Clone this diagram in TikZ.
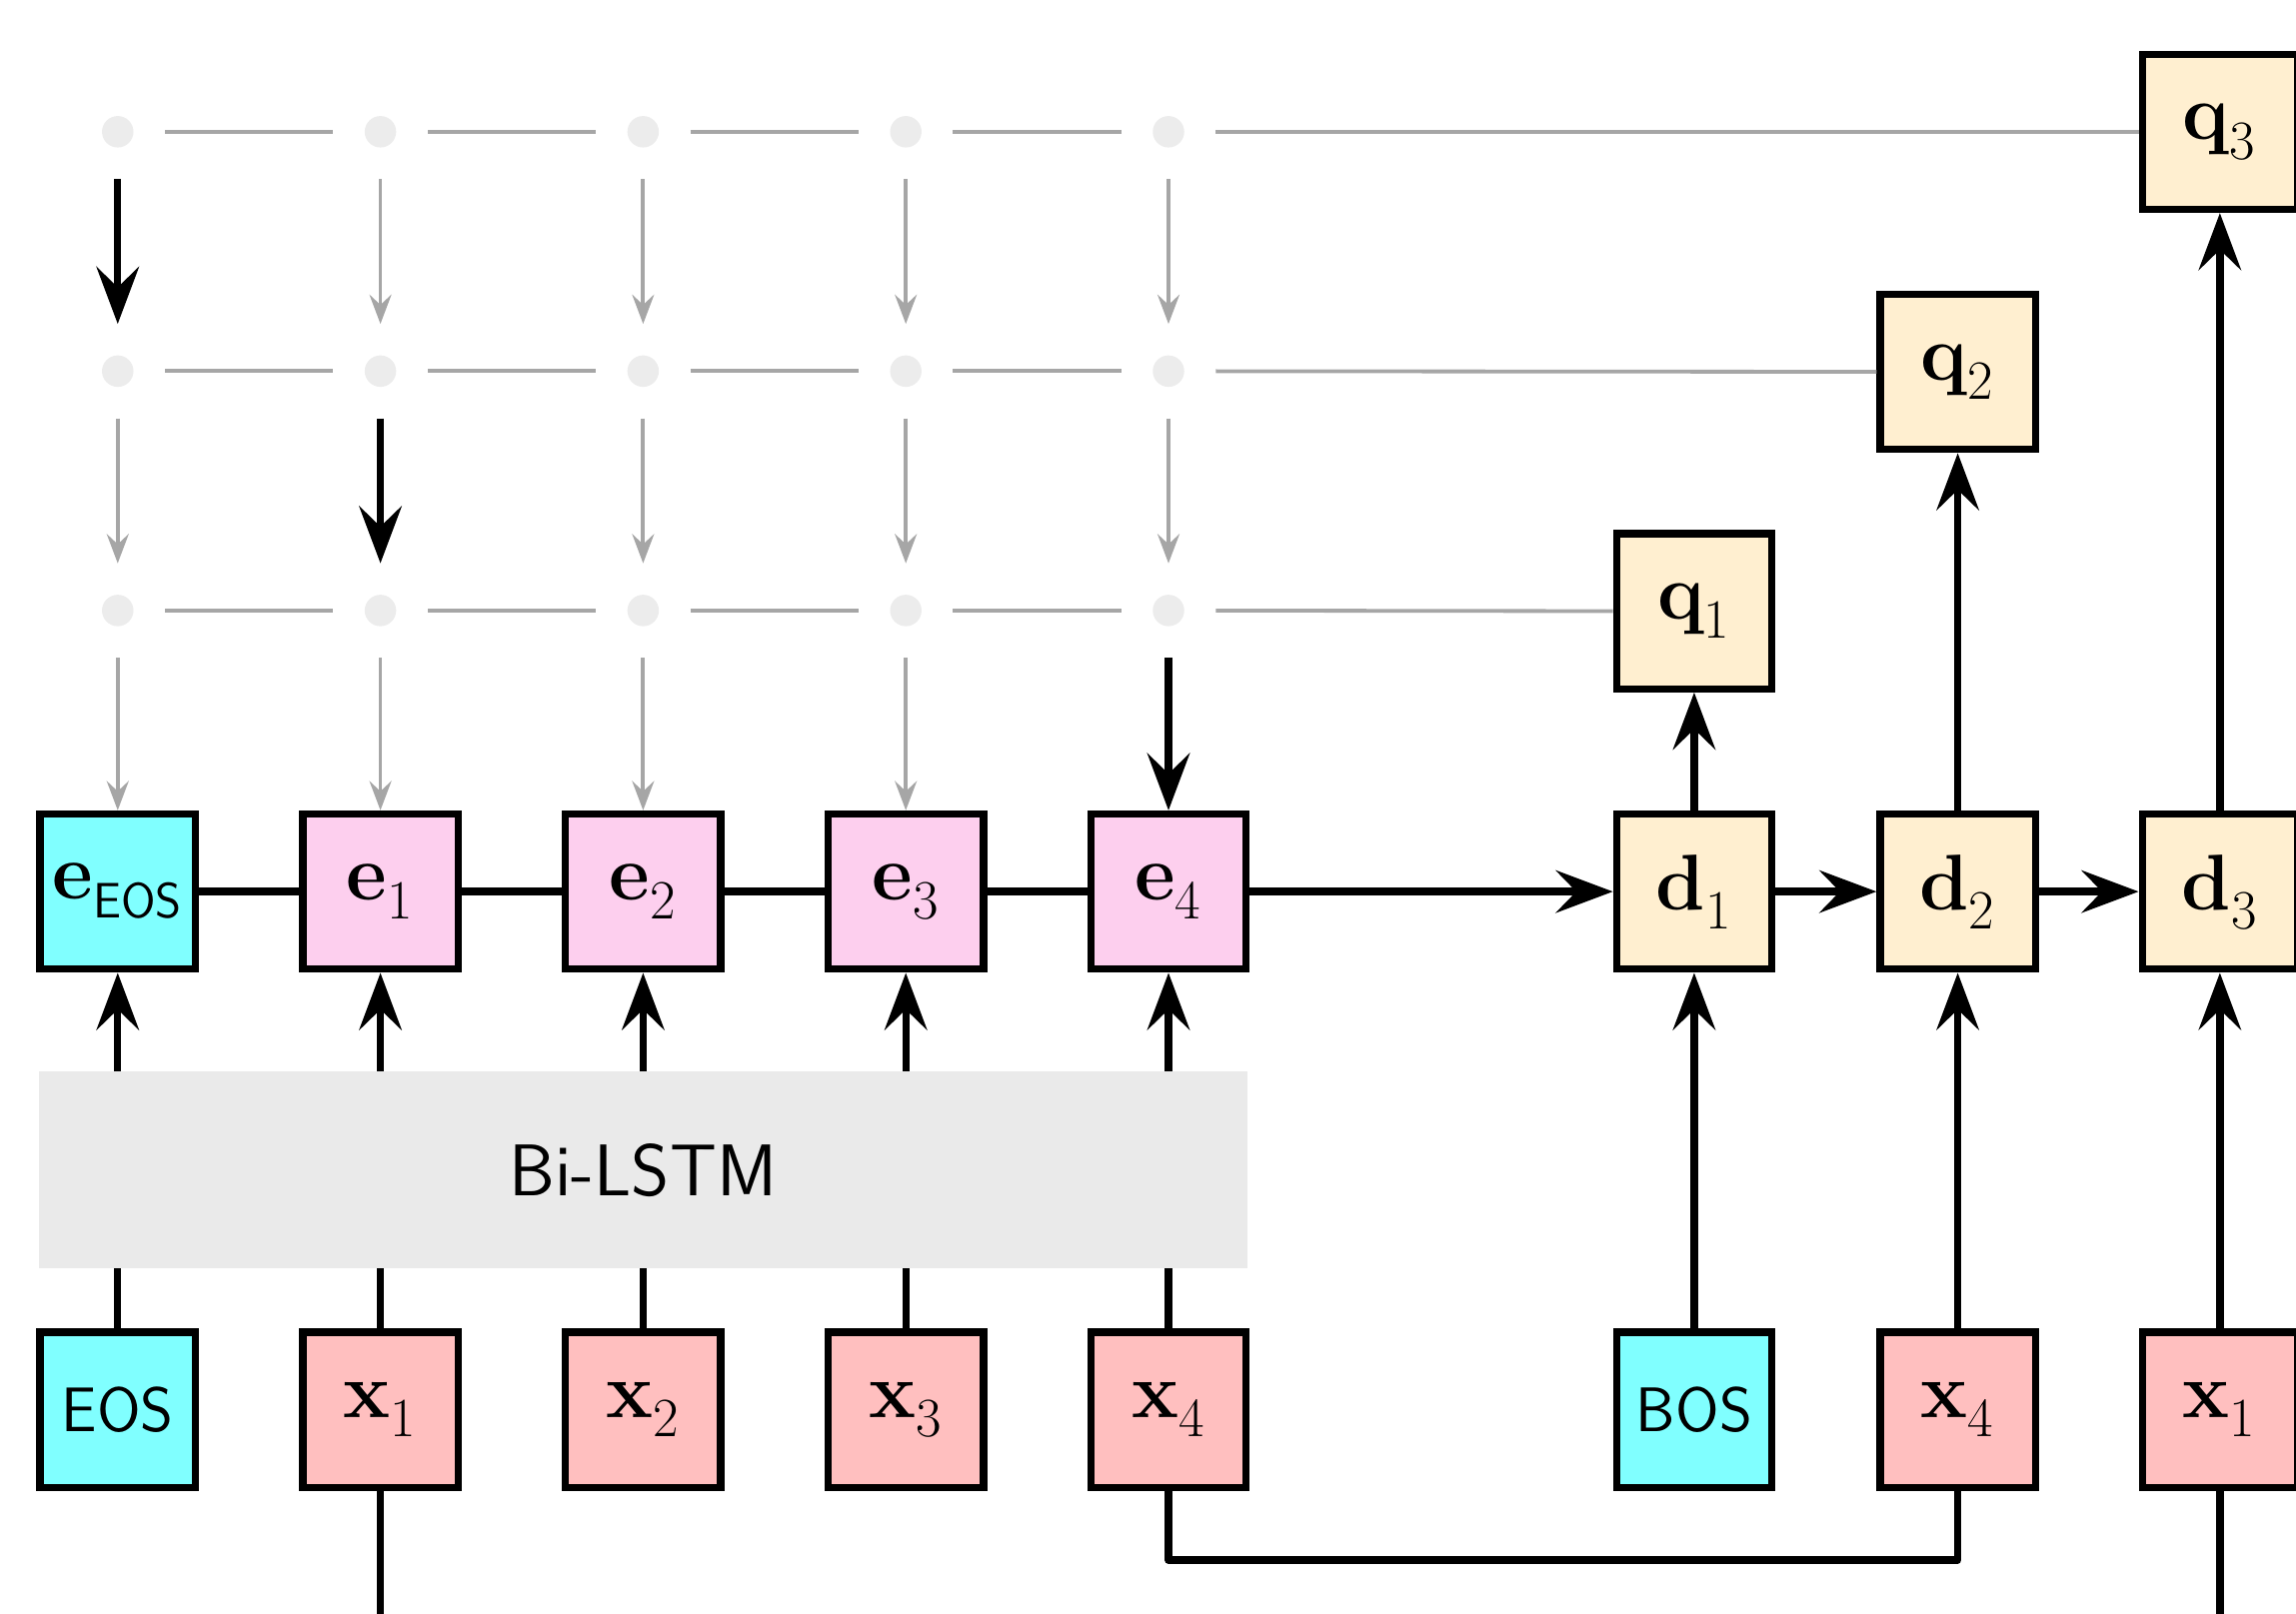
\documentclass[tikz,border=0pt]{standalone}
\usepackage{fix-cm}
\usetikzlibrary{arrows.meta}
\definecolor{cyanc}{HTML}{80FFFF}
\definecolor{epink}{HTML}{FDCFEE}
\definecolor{xpink}{HTML}{FFBFBF}
\definecolor{beige}{HTML}{FFEFD0}
\definecolor{lstmc}{HTML}{EAEAEA}
\definecolor{dotc}{HTML}{ECECEC}
\definecolor{glc}{HTML}{A6A6A6}
\newcommand{\lbl}[2]{$\mathbf{#1}_{\raisebox{-2.5pt}{$\scriptstyle #2$}}$}
\begin{document}
\begin{tikzpicture}[x=0.5pt,y=-0.5pt,
  box/.style={draw=black, line width=2.5pt, minimum size=53pt, inner sep=0pt, font=\fontsize{27}{30}\selectfont},
  ebox/.style={box, fill=epink},
  xbox/.style={box, fill=xpink},
  dbox/.style={box, fill=beige},
  tokbox/.style={box, fill=cyanc, font=\sffamily\fontsize{21.5}{26}\selectfont},
  gdot/.style={circle, fill=dotc, minimum size=10.75pt, inner sep=0pt, outer sep=10.75pt},
  bl/.style={line width=2.5pt, black},
  barr/.style={bl, -{Stealth[length=19.5pt, width=14.5pt, inset=7pt]}},
  gl/.style={line width=1.3pt, glc},
  garr/.style={gl, -{Stealth[length=10pt, width=7.5pt, inset=3.5pt]}},
  bgarr/.style={line width=2.5pt, black, -{Stealth[length=19.5pt, width=14.5pt, inset=7pt]}},
]
\useasboundingbox (0,0) rectangle (1568,1102.4);

% grid of dots
\foreach \r/\yy in {0/90,1/253.5,2/417}{
  \foreach \c/\xx in {0/80.4,1/259.8,2/439.2,3/618.6,4/798}{
    \node[gdot] (g-\r-\c) at (\xx,\yy) {};
  }
}

% encoder boxes
\node[box, fill=cyanc] (e0) at (80.4,609) {$\mathbf{e}_{\raisebox{-2.5pt}{\sffamily\fontsize{17}{20}\selectfont EOS}}$};
\node[ebox] (e1) at (259.8,609) {\lbl{e}{1}};
\node[ebox] (e2) at (439.2,609) {\lbl{e}{2}};
\node[ebox] (e3) at (618.6,609) {\lbl{e}{3}};
\node[ebox] (e4) at (798,609) {\lbl{e}{4}};

% inputs
\node[tokbox] (x0) at (80.4,963) {EOS};
\node[xbox] (x1) at (259.8,963) {\lbl{x}{1}};
\node[xbox] (x2) at (439.2,963) {\lbl{x}{2}};
\node[xbox] (x3) at (618.6,963) {\lbl{x}{3}};
\node[xbox] (x4) at (798,963) {\lbl{x}{4}};

% decoder
\node[dbox] (d1) at (1157,609) {\lbl{d}{1}};
\node[dbox] (d2) at (1337,609) {\lbl{d}{2}};
\node[dbox] (d3) at (1516,609) {\lbl{d}{3}};
\node[dbox] (q1) at (1157,417.5) {\lbl{q}{1}};
\node[dbox] (q2) at (1337,254) {\lbl{q}{2}};
\node[dbox] (q3) at (1516,90) {\lbl{q}{3}};
\node[tokbox] (bos) at (1157,963) {BOS};
\node[xbox] (y4) at (1337,963) {\lbl{x}{4}};
\node[xbox] (y1) at (1516,963) {\lbl{x}{1}};

% horizontal gray lines
\foreach \r in {0,1,2}{
  \foreach \c/\n in {0/1,1/2,2/3,3/4}{
    \draw[gl] (g-\r-\c) -- (g-\r-\n);
  }
}
\draw[gl] (g-0-4) -- (q3);
\draw[gl] (g-1-4) -- (q2);
\draw[gl] (g-2-4) -- (q1);

% vertical gray arrows
\foreach \c in {1,2,3,4}{ \draw[garr] (g-0-\c) -- (g-1-\c); }
\draw[bgarr] (g-0-0) -- (g-1-0);
\foreach \c in {0,2,3,4}{ \draw[garr] (g-1-\c) -- (g-2-\c); }
\draw[bgarr] (g-1-1) -- (g-2-1);
\draw[garr] (g-2-0) -- (e0);
\draw[garr] (g-2-1) -- (e1);
\draw[garr] (g-2-2) -- (e2);
\draw[garr] (g-2-3) -- (e3);
\draw[bgarr] (g-2-4) -- (e4);

% encoder chain
\draw[bl] (e0) -- (e1);
\draw[bl] (e1) -- (e2);
\draw[bl] (e2) -- (e3);
\draw[bl] (e3) -- (e4);

% input to encoder arrows
\draw[barr] (x0) -- (e0);
\draw[barr] (x1) -- (e1);
\draw[barr] (x2) -- (e2);
\draw[barr] (x3) -- (e3);
\draw[barr] (x4) -- (e4);

% Bi-LSTM block
\node[fill=lstmc, minimum width=412.6pt, minimum height=67.25pt, inner sep=0pt,
      font=\sffamily\fontsize{25}{30}\selectfont] (lstm) at (439.2,799.25) {Bi-LSTM};

% decoder arrows
\draw[barr] (e4) -- (d1);
\draw[barr] (d1) -- (d2);
\draw[barr] (d2) -- (d3);
\draw[barr] (d1) -- (q1);
\draw[barr] (d2) -- (q2);
\draw[barr] (d3) -- (q3);
\draw[barr] (bos) -- (d1);
\draw[barr] (y4) -- (d2);
\draw[barr] (y1) -- (d3);

% bottom connectors
\coordinate (bend) at (798,1065.6);
\draw[bl, line join=round] (x4.south) -- (bend) -| (y4.south);
\coordinate (x1end) at (259.8,1115);
\coordinate (y1end) at (1516,1115);
\draw[bl] (x1) -- (x1end);
\draw[bl] (y1) -- (y1end);
\end{tikzpicture}
\end{document}
